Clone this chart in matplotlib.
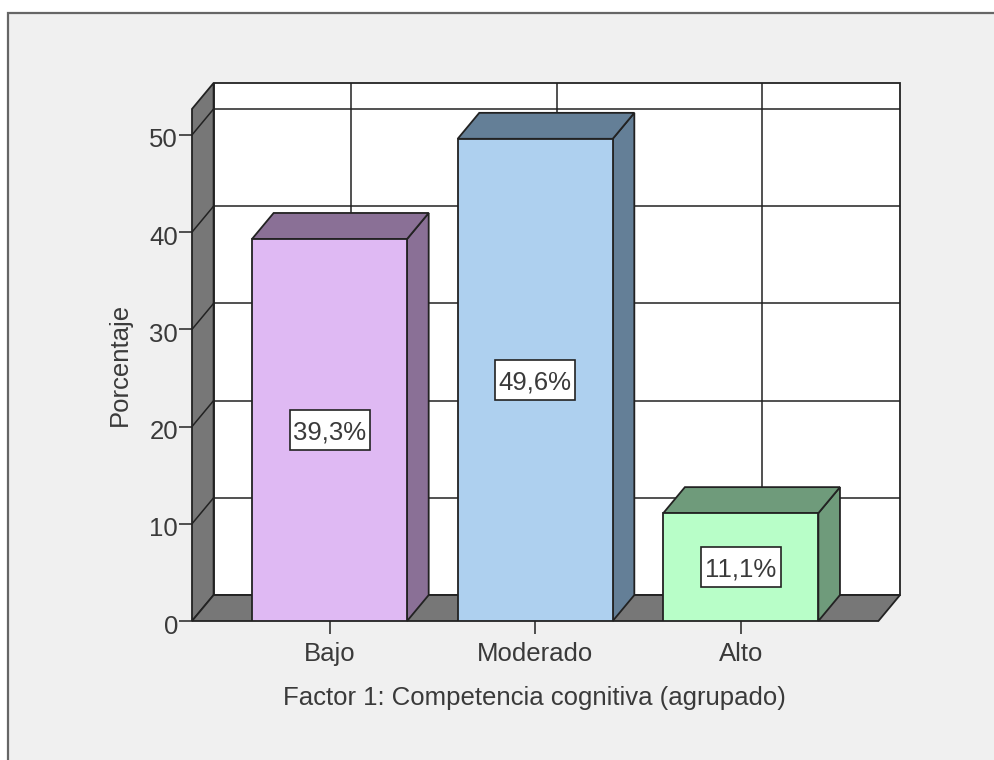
import matplotlib
matplotlib.use("Agg")
from matplotlib import pyplot as plt
from matplotlib.patches import Polygon, Rectangle
from matplotlib.transforms import ScaledTranslation

plt.rcParams['font.family'] = ['Liberation Sans', 'DejaVu Sans']

categories = ["Bajo", "Moderado", "Alto"]
values = [39.3, 49.6, 11.1]
value_labels = ["39,3%", "49,6%", "11,1%"]
yticks = [0, 10, 20, 30, 40, 50]
front_colors = ["#dfb9f3", "#aed0ef", "#b8fec8"]
shade_colors = ["#8a7096", "#647f97", "#6f9b7b"]

W, H = 995, 760
EDGE = "#222222"
TEXT = "#3a3a3a"
WALL = "#777777"
FS = 18.5

# 3D depth in data units, front plane limits
dx, dy = 0.105, 2.67
x0, x1 = -0.669, 2.669
ytop = 52.67
bar_w = 0.754
box_w, box_h = 0.389, 4.1

fig = plt.figure(figsize=(W / 100, H / 100), dpi=100, facecolor="white")
fig.add_artist(Rectangle((8 / W, -0.05), 1.05, 1 - 13 / H + 0.05, transform=fig.transFigure,
                         facecolor="#f0f0f0", edgecolor="#666666", lw=1.6, zorder=-1))

ax = fig.add_axes([192 / W, 1 - 621 / H, (900 - 192) / W, (621 - 83) / H])
ax.set_xlim(x0, x1 + dx)
ax.set_ylim(0, ytop + dy)
ax.patch.set_alpha(0)
for s in ax.spines.values():
    s.set_visible(False)


def poly(pts, color, z, lw=1.3):
    ax.add_patch(Polygon(pts, closed=True, facecolor=color, edgecolor=EDGE, lw=lw,
                         zorder=z, clip_on=False, joinstyle="miter"))


# back wall, left wall, floor
poly([(x0 + dx, dy), (x1 + dx, dy), (x1 + dx, ytop + dy), (x0 + dx, ytop + dy)], "white", 1)
poly([(x0, 0), (x0 + dx, dy), (x0 + dx, ytop + dy), (x0, ytop)], WALL, 2)
poly([(x0, 0), (x1, 0), (x1 + dx, dy), (x0 + dx, dy)], WALL, 2)

# grid on the back wall and the left wall
for v in yticks[1:]:
    ax.plot([x0 + dx, x1 + dx], [v + dy, v + dy], color=EDGE, lw=1.1, zorder=1.5)
    ax.plot([x0, x0 + dx], [v, v + dy], color=EDGE, lw=1.1, zorder=3)
for i in range(len(categories)):
    ax.plot([i + dx, i + dx], [dy, ytop + dy], color=EDGE, lw=1.1, zorder=1.5)

# small nudge so text sits like the original
down2 = ScaledTranslation(0, -2.5 / 100, fig.dpi_scale_trans)
down3 = ScaledTranslation(1 / 100, -3 / 100, fig.dpi_scale_trans)

# bars
for i, v in enumerate(values):
    left, right = i - bar_w / 2, i + bar_w / 2
    poly([(right, 0), (right + dx, dy), (right + dx, v + dy), (right, v)], shade_colors[i], 4)
    poly([(left, v), (right, v), (right + dx, v + dy), (left + dx, v + dy)], shade_colors[i], 4)
    ax.bar(i, v, width=bar_w, color=front_colors[i], edgecolor=EDGE, linewidth=1.3, zorder=5)
    ax.add_patch(Rectangle((i - box_w / 2, v / 2 - box_h / 2), box_w, box_h, facecolor="white",
                           edgecolor=EDGE, lw=1.2, zorder=6))
    ax.text(i, v / 2, value_labels[i], ha="center", va="center", fontsize=FS, color=TEXT, zorder=7,
            transform=ax.transData + down2)

ax.set_xticks(range(len(categories)))
ax.set_xticklabels(categories)
ax.set_yticks(yticks)
ax.tick_params(axis="both", length=13 * 0.72, width=1.1, color=EDGE, labelsize=FS, labelcolor=TEXT)
ax.tick_params(axis="x", pad=6)
ax.tick_params(axis="y", pad=1.5)
for lab in ax.get_yticklabels():
    lab.set_transform(lab.get_transform() + down3)

ax.set_xlabel("Factor 1: Competencia cognitiva (agrupado)", fontsize=FS, color=TEXT, va="center")
ax.xaxis.set_label_coords((534 - 192) / 708, (621 - 697.5) / 538)
ax.set_ylabel("Porcentaje", fontsize=FS, color=TEXT, va="center")
ax.yaxis.set_label_coords((120 - 192) / 708, (621 - 364) / 538)

fig.savefig("out.png", dpi=100, facecolor=fig.get_facecolor())
